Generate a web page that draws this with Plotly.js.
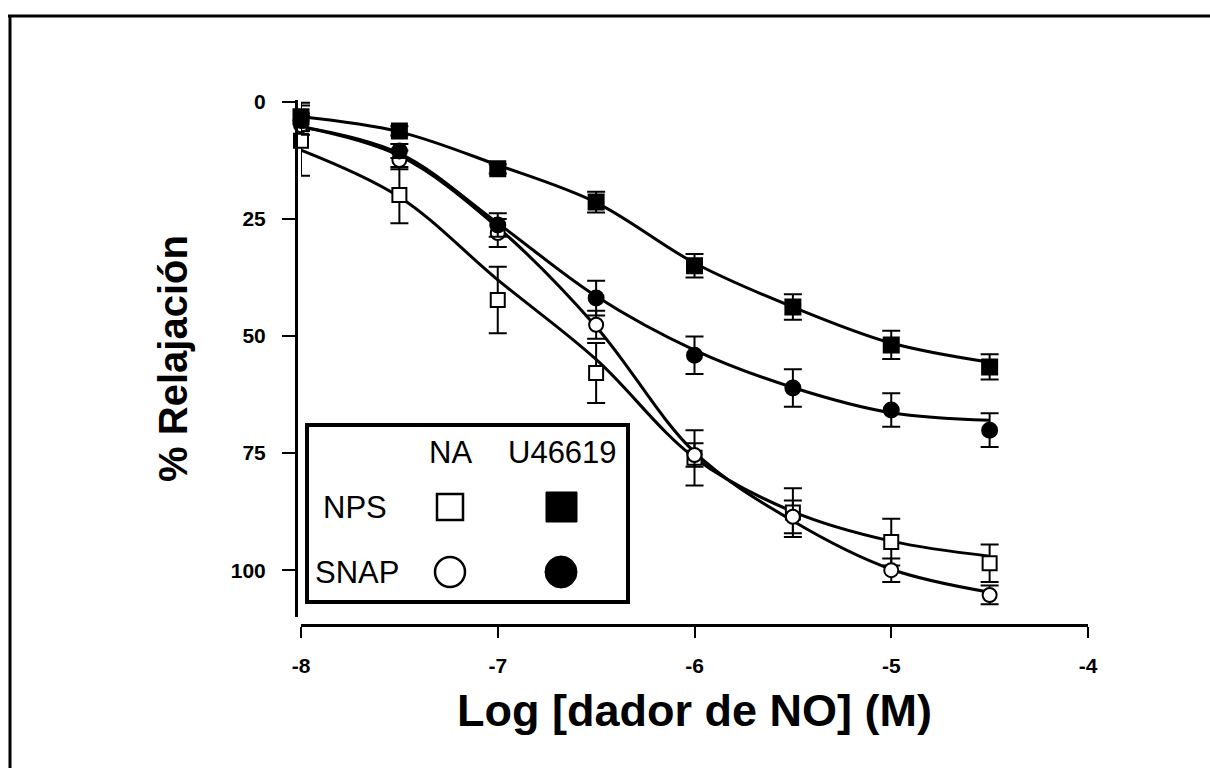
<!DOCTYPE html>
<html>
<head>
<meta charset="utf-8">
<script src="https://cdn.plot.ly/plotly-3.0.1.min.js"></script>
<style>html,body{margin:0;padding:0;background:#fff;}#chart{width:1210px;height:768px;}</style>
</head>
<body>
<div id="chart"></div>
<script>
// ---- data ----
const logDose = [-8, -7.5, -7, -6.5, -6, -5.5, -5, -4.5];

const npsNA      = [8.3, 19.9, 42.3, 57.9, 76.0, 87.7, 94.0, 98.5];
const npsNAErr   = [7.5, 6.0, 7.1, 6.4, 5.9, 5.2, 5.0, 4.0];
const npsU       = [3.2, 6.2, 14.3, 21.4, 35.0, 43.8, 51.9, 56.6];
const npsUErr    = [3.0, 1.0, 1.0, 2.2, 2.5, 2.7, 3.0, 2.7];
const snapNA     = [5.0, 12.4, 28.0, 47.6, 75.4, 88.6, 100.0, 105.3];
const snapNAErr  = [2.0, 2.0, 3.0, 3.0, 2.5, 3.5, 2.5, 2.0];
const snapU      = [4.0, 10.5, 26.3, 41.9, 54.1, 61.1, 65.8, 70.1];
const snapUErr   = [1.5, 1.5, 2.5, 3.7, 4.0, 4.0, 3.6, 3.6];

// fitted curves at each dose
const fitNpsNA   = [10.3, 20.3, 38.0, 55.0, 76.0, 87.5, 93.8, 97.0];
const fitNpsU    = [3.2, 6.4, 13.5, 21.5, 34.4, 43.8, 51.5, 55.6];
const fitSnapNA  = [5.3, 11.5, 26.8, 48.0, 74.8, 89.5, 99.8, 104.7];
const fitSnapU   = [5.3, 11.0, 25.9, 41.5, 53.0, 61.0, 66.4, 68.0];

const xTicks = [-8, -7, -6, -5, -4];
const yTicks = [0, 25, 50, 75, 100];

const colLabels = ["NA", "U46619"];
const rowLabels = ["NPS", "SNAP"];

// ---- layout geometry (pixels) ----
const W = 1210, H = 768;
const M = {l: 296, r: 122, t: 100, b: 143};
const PW = W - M.l - M.r, PH = H - M.t - M.b;
const px = x => (x - M.l) / PW;
const py = y => (H - M.b - y) / PH;

const FONT = "Liberation Sans, Arial, Helvetica, sans-serif";

function fitTrace(y) {
  return {x: logDose, y: y, type: "scatter", mode: "lines",
    line: {color: "#000", width: 3, shape: "spline", smoothing: 1.0},
    hoverinfo: "skip", showlegend: false, cliponaxis: false};
}
function ptTrace(name, y, err, symbol, filled, size) {
  return {x: logDose, y: y, name: name, type: "scatter", mode: "markers",
    marker: {symbol: symbol, size: size, color: filled ? "#000" : "#fff",
             line: {color: "#000", width: 2}},
    error_y: {type: "data", array: err, visible: true, color: "#000", thickness: 2, width: 9},
    showlegend: false, cliponaxis: false};
}

const data = [
  fitTrace(fitNpsNA), fitTrace(fitNpsU), fitTrace(fitSnapNA), fitTrace(fitSnapU),
  ptTrace("NPS NA", npsNA, npsNAErr, "square", false, 14),
  ptTrace("SNAP NA", snapNA, snapNAErr, "circle", false, 14),
  ptTrace("SNAP U46619", snapU, snapUErr, "circle", true, 15),
  ptTrace("NPS U46619", npsU, npsUErr, "square", true, 15)
];

const shapes = [
  // outer frame fragments
  {type: "line", xref: "paper", yref: "paper", x0: px(8), x1: px(1210), y0: py(16), y1: py(16), line: {color: "#000", width: 3}},
  {type: "line", xref: "paper", yref: "paper", x0: px(10), x1: px(10), y0: py(16), y1: py(768), line: {color: "#000", width: 3}},
  // legend box
  {type: "rect", xref: "paper", yref: "paper", x0: px(307), x1: px(628), y0: py(425), y1: py(602), line: {color: "#000", width: 4}, fillcolor: "rgba(0,0,0,0)"},
  // legend symbols
  {type: "rect", xref: "paper", yref: "paper", x0: px(437), x1: px(463), y0: py(494), y1: py(520), line: {color: "#000", width: 2.5}, fillcolor: "#fff"},
  {type: "rect", xref: "paper", yref: "paper", x0: px(546), x1: px(577), y0: py(492), y1: py(522), line: {color: "#000", width: 1}, fillcolor: "#000"},
  {type: "circle", xref: "paper", yref: "paper", x0: px(435), x1: px(465), y0: py(557), y1: py(587), line: {color: "#000", width: 2.5}, fillcolor: "#fff"},
  {type: "circle", xref: "paper", yref: "paper", x0: px(545), x1: px(577), y0: py(556), y1: py(588), line: {color: "#000", width: 1}, fillcolor: "#000"}
];

const annotations = [
  {text: colLabels[0], x: px(450), y: py(452)},
  {text: colLabels[1], x: px(562), y: py(452)},
  {text: rowLabels[0], x: px(355), y: py(507)},
  {text: rowLabels[1], x: px(357), y: py(572)}
].map(a => Object.assign({xref: "paper", yref: "paper", showarrow: false,
  xanchor: "center", yanchor: "middle", font: {family: FONT, size: 31, color: "#000"}}, a));

const layout = {
  width: W, height: H,
  margin: M,
  paper_bgcolor: "#fff", plot_bgcolor: "#fff",
  showlegend: false,
  font: {family: FONT, color: "#000"},
  xaxis: {
    domain: [px(301), 1], anchor: "free", position: 0,
    range: [-8, -4], tickvals: xTicks, ticktext: xTicks.map(String),
    showline: true, linecolor: "#000", linewidth: 2.5,
    ticks: "outside", ticklen: 11, tickwidth: 2, tickcolor: "#000",
    showgrid: false, zeroline: false,
    tickfont: {family: FONT, size: 21, color: "#000", weight: "bold"},
    ticklabelstandoff: 10,
    title: {text: "<b>Log [dador de NO] (M)</b>", font: {family: FONT, size: 45, color: "#000"}, standoff: 18}
  },
  yaxis: {
    domain: [py(617), 1], anchor: "free", position: 0,
    range: [110, -0.4], tickvals: yTicks, ticktext: yTicks.map(String),
    showline: true, linecolor: "#000", linewidth: 2.5,
    ticks: "outside", ticklen: 13, tickwidth: 2, tickcolor: "#000",
    showgrid: false, zeroline: false,
    tickfont: {family: FONT, size: 21, color: "#000", weight: "bold"},
    ticklabelstandoff: 12,
    title: {text: "<b>% Relajación</b>", font: {family: FONT, size: 40, color: "#000"}, standoff: 30}
  },
  shapes: shapes,
  annotations: annotations
};

Plotly.newPlot("chart", data, layout, {displayModeBar: false, staticPlot: true});
</script>
</body>
</html>
